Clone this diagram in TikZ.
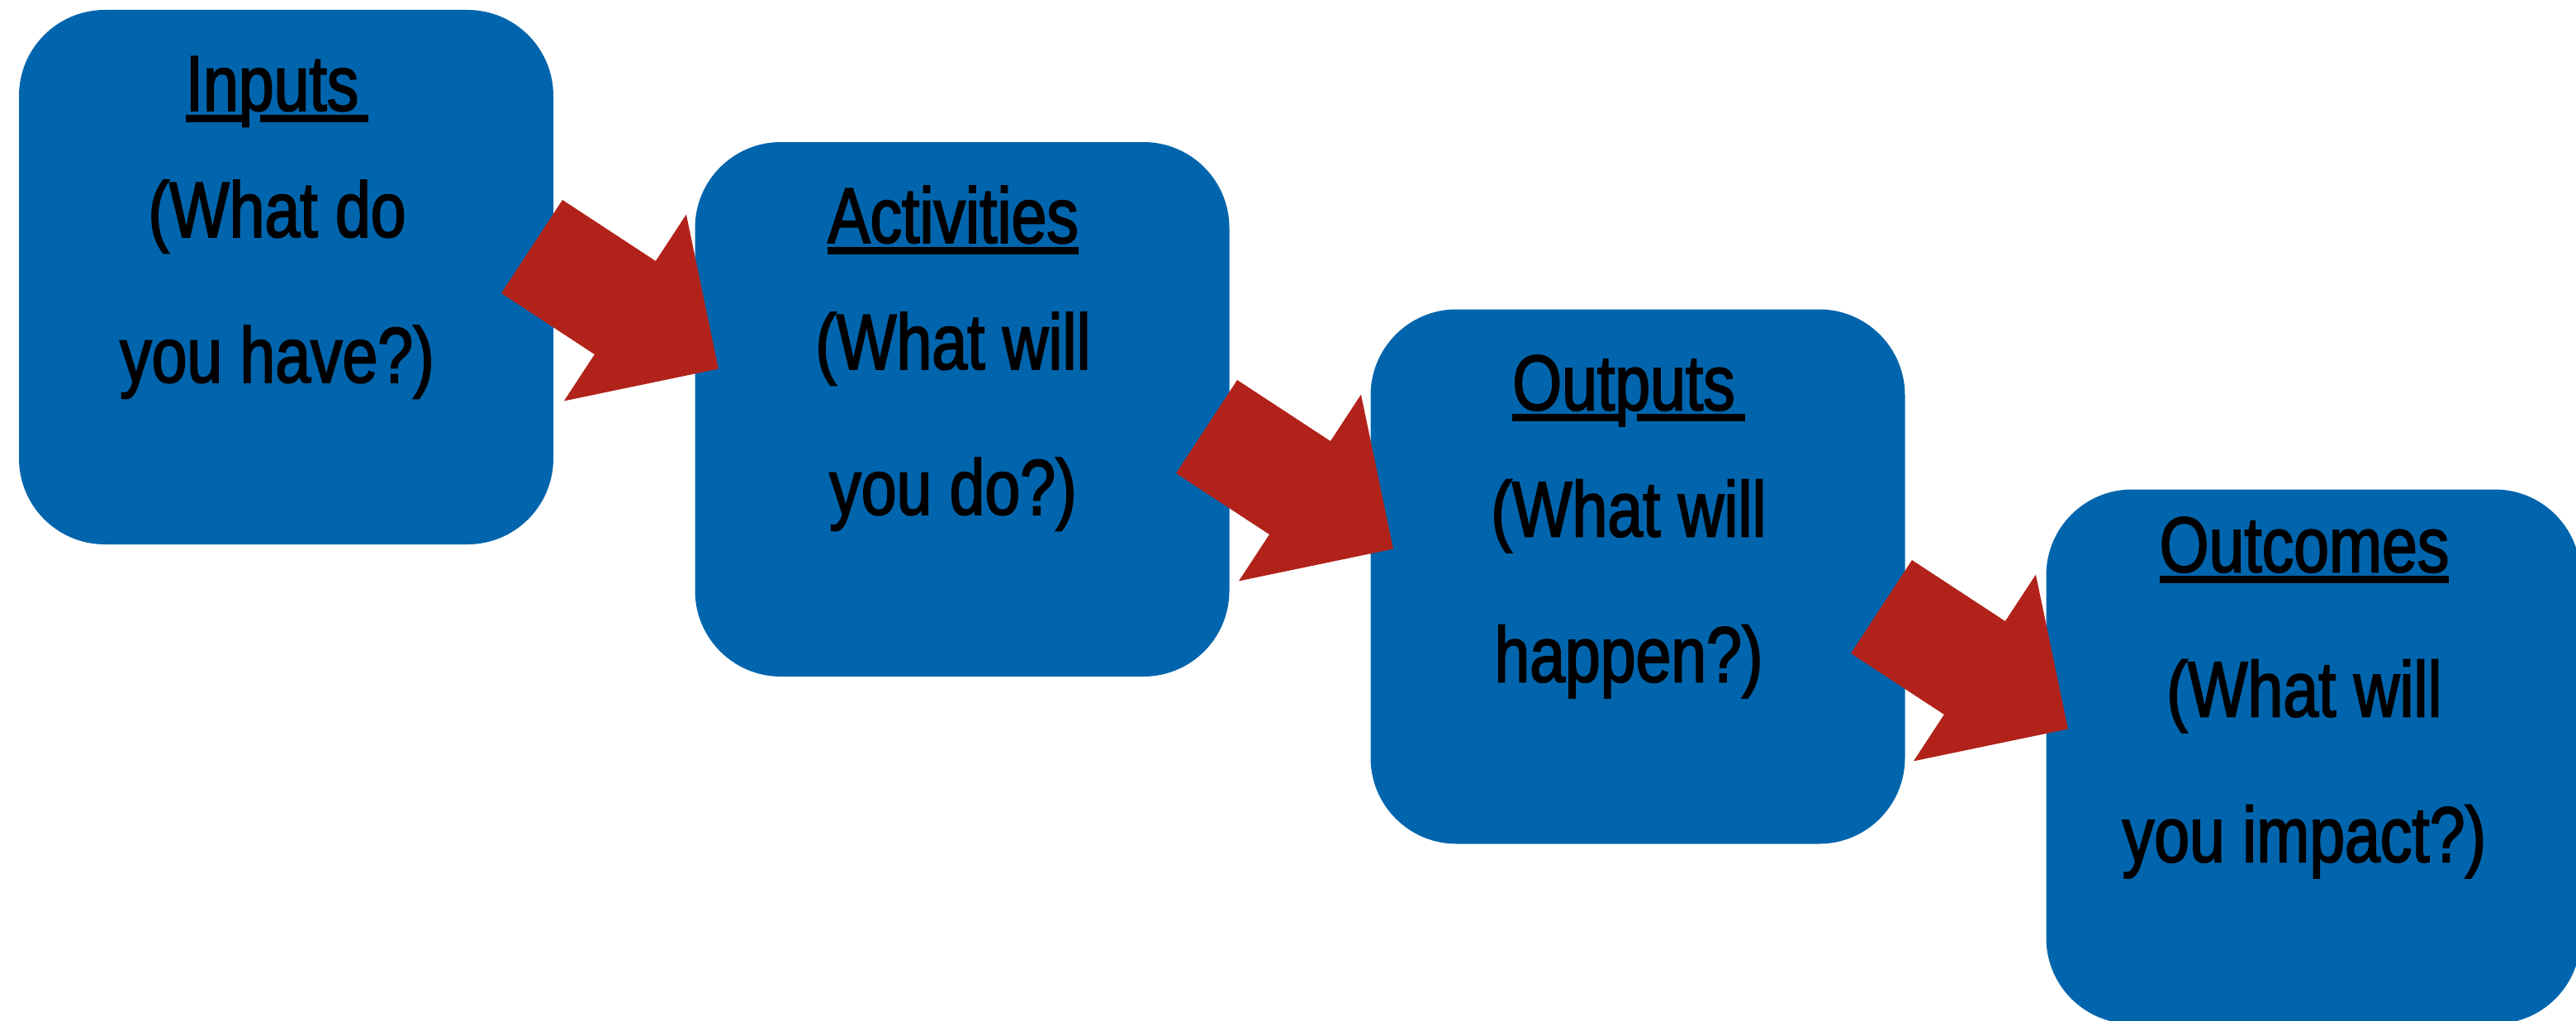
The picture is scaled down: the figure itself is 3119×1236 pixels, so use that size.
\documentclass[tikz,border=0pt]{standalone}
\usepackage{fontspec}
\setmainfont{Liberation Sans}[FakeStretch=0.81,FakeBold=2]
\usetikzlibrary{calc}
\definecolor{boxblue}{RGB}{0,101,173}
\definecolor{arrowred}{RGB}{177,35,26}
% underline: whole box
\newcommand\myul[1]{\setbox0\hbox{#1}\rlap{\rule[-14pt]{\wd0}{9pt}}\box0}
% letter p with a gap in the underline around its descender
\newcommand\myulp{\setbox2\hbox{p}\rlap{\rule[-14pt]{0.1\wd2}{9pt}}\rlap{\hspace{0.62\wd2}\rule[-14pt]{0.38\wd2}{9pt}}\box2}
\newcommand\myultail{\rule[-14pt]{12pt}{9pt}}
\tikzset{
  barrow/.pic={\fill[arrowred] (37.0,-56.5) -- (149.9,17.5) -- (186.9,-38.9) -- (225.9,148.0) -- (38.9,186.9) -- (75.9,130.5) -- (-37.0,56.5) -- cycle;},
  lmbox/.style={fill=boxblue, draw=none, rounded corners=104pt, minimum width=647pt, minimum height=647pt, inner sep=0pt},
  lmtext/.style={anchor=base, inner sep=0pt, font=\fontsize{95}{114}\selectfont, text=black}
}
\begin{document}
\begin{tikzpicture}[x=1pt,y=-1pt]
\useasboundingbox (0,0) rectangle (3119,1236);
\clip (0,0) rectangle (3119,1236);
\fill[white] (0,0) rectangle (3119,1236);
% boxes
\node[lmbox] (inputs) at (346.5,335.5) {};
\node[lmbox] (activities) at (1165,495.5) {};
\node[lmbox] (outputs) at (1983,698) {};
\node[lmbox] (outcomes) at (2801,916) {};
% arrows
\pic (a1) at (644,298.5) {barrow};
\pic (a2) at (1461,516.5) {barrow};
\pic (a3) at (2278,734.5) {barrow};
% texts
\node[lmtext] (inputs-t) at ($(inputs.north)+(-11,122)$) {\myul{In}\myulp{}\myul{uts}\myultail};
\node[lmtext] (inputs-l2) at ($(inputs.north)+(-11,275)$) {(What do};
\node[lmtext] (inputs-l3) at ($(inputs.north)+(-11,451)$) {you have?)};
\node[lmtext] (activities-t) at ($(activities.north)+(-11,122)$) {\myul{Activities}};
\node[lmtext] (activities-l2) at ($(activities.north)+(-11,275)$) {(What will};
\node[lmtext] (activities-l3) at ($(activities.north)+(-11,451)$) {you do?)};
\node[lmtext] (outputs-t) at ($(outputs.north)+(-11,122)$) {\myul{Out}\myulp{}\myul{uts}\myultail};
\node[lmtext] (outputs-l2) at ($(outputs.north)+(-11,275)$) {(What will};
\node[lmtext] (outputs-l3) at ($(outputs.north)+(-11,451)$) {happen?)};
\node[lmtext] (outcomes-t) at ($(outcomes.north)+(-11,100)$) {\myul{Outcomes}};
\node[lmtext] (outcomes-l2) at ($(outcomes.north)+(-11,275)$) {(What will};
\node[lmtext] (outcomes-l3) at ($(outcomes.north)+(-11,451)$) {you impact?)};
\end{tikzpicture}
\end{document}
